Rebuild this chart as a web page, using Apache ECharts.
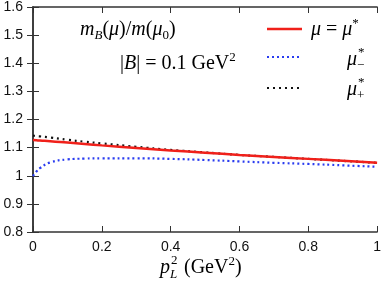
<!DOCTYPE html>
<html><head><meta charset="utf-8">
<script src="https://cdn.jsdelivr.net/npm/echarts@6/dist/echarts.min.js"></script>
<style>html,body{margin:0;padding:0;background:#fff}#c{width:384px;height:283px}</style>
</head><body><div id="c"></div>
<script>
var xValues = [0, 0.01, 0.02, 0.05, 0.1, 0.15, 0.2, 0.3, 0.4, 0.5, 0.6, 0.7, 0.8, 0.9, 1.0];
var muStar = [1.127, 1.126, 1.125, 1.123, 1.118, 1.113, 1.108, 1.099, 1.090, 1.082, 1.074, 1.067, 1.060, 1.053, 1.046];
var muMinus = [0.999, 1.015, 1.027, 1.047, 1.058, 1.061, 1.062, 1.062, 1.060, 1.056, 1.051, 1.046, 1.042, 1.037, 1.032];
var muPlus = [1.143, 1.141, 1.140, 1.136, 1.128, 1.121, 1.115, 1.103, 1.092, 1.083, 1.074, 1.067, 1.060, 1.053, 1.046];
var xTicks = [0, 0.2, 0.4, 0.6, 0.8, 1];
var yTicks = [0.8, 0.9, 1, 1.1, 1.2, 1.3, 1.4, 1.5, 1.6];

function pairs(ys){ return xValues.map(function(x,i){ return [x, ys[i]]; }); }
var chart = echarts.init(document.getElementById('c'));
var axisCol = '#333';
var serif = 'Liberation Serif';
var rich = {
  i: {fontFamily: serif, fontStyle: 'italic', fontSize: 20, color: '#000'},
  r: {fontFamily: serif, fontSize: 20, color: '#000'},
  sub: {fontFamily: serif, fontStyle: 'italic', fontSize: 13, color: '#000', verticalAlign: 'bottom'},
  subr: {fontFamily: serif, fontSize: 13, color: '#000', verticalAlign: 'bottom'},
  sup: {fontFamily: serif, fontSize: 13, color: '#000', verticalAlign: 'top'}
};
function txt(x, y, s){
  return {type: 'text', z: 100, style: {x: x, y: y, text: s, rich: rich, textVerticalAlign: 'middle', lineHeight: 25}};
}
var labelFmt = function(v){ return String(Math.round(v*10)/10); };
var option = {
  animation: false,
  grid: {left: 33, right: 4, top: 7, bottom: 51},
  xAxis: [{
    type: 'value', min: 0, max: 1, interval: 0.2,
    axisLine: {lineStyle: {color: axisCol, width: 1.5}},
    axisTick: {inside: true, length: 6, lineStyle: {color: axisCol}},
    splitLine: {show: false},
    axisLabel: {color: '#111', fontSize: 14, fontFamily: 'Liberation Sans', margin: 8, formatter: labelFmt}
  }, {
    type: 'value', min: 0, max: 1, interval: 0.2, position: 'top',
    axisLine: {show: true, lineStyle: {color: axisCol, width: 1.5}},
    axisTick: {inside: true, length: 6, lineStyle: {color: axisCol}},
    splitLine: {show: false}, axisLabel: {show: false}
  }],
  yAxis: [{
    type: 'value', min: 0.8, max: 1.6, interval: 0.1,
    axisLine: {show: true, lineStyle: {color: axisCol, width: 1.5}},
    axisTick: {show: true, inside: true, length: 6, lineStyle: {color: axisCol}},
    splitLine: {show: false},
    axisLabel: {color: '#111', fontSize: 14, fontFamily: 'Liberation Sans', margin: 10, formatter: labelFmt}
  }, {
    type: 'value', min: 0.8, max: 1.6, interval: 0.1, position: 'right',
    axisLine: {show: true, lineStyle: {color: axisCol, width: 1.5}},
    axisTick: {show: true, inside: true, length: 6, lineStyle: {color: axisCol}},
    splitLine: {show: false}, axisLabel: {show: false}
  }],
  series: [
    {name: 'muMinus', type: 'line', smooth: true, symbol: 'none', data: pairs(muMinus),
      lineStyle: {color: '#2a3cf0', width: 2.2, type: [2, 3]}},
    {name: 'muPlus', type: 'line', smooth: true, symbol: 'none', data: pairs(muPlus),
      lineStyle: {color: '#111', width: 2.2, type: [2, 4]}},
    {name: 'muStar', type: 'line', smooth: true, symbol: 'none', data: pairs(muStar),
      lineStyle: {color: '#f0201a', width: 2.5}}
  ],
  graphic: [
    txt(80, 30, '{i|m}{sub|B}{r|(}{i|μ}{r|)/}{i|m}{r|(}{i|μ}{subr|0}{r|)}'),
    txt(120, 64, '{r||}{i|B}{r|| = 0.1 GeV}{sup|2}'),
    txt(311, 30, '{i|μ}{r| = }{i|μ}{sup|*}'),
    {type: 'text', z: 100, style: {x: 347, y: 60, text: 'μ', font: 'italic 20px Liberation Serif', fill: '#000', textVerticalAlign: 'middle'}},
    {type: 'text', z: 100, style: {x: 358, y: 53, text: '*', font: '13px Liberation Serif', fill: '#000', textVerticalAlign: 'middle'}},
    {type: 'text', z: 100, style: {x: 357, y: 66, text: '−', font: '13px Liberation Serif', fill: '#000', textVerticalAlign: 'middle'}},
    {type: 'text', z: 100, style: {x: 347, y: 90, text: 'μ', font: 'italic 20px Liberation Serif', fill: '#000', textVerticalAlign: 'middle'}},
    {type: 'text', z: 100, style: {x: 358, y: 83, text: '*', font: '13px Liberation Serif', fill: '#000', textVerticalAlign: 'middle'}},
    {type: 'text', z: 100, style: {x: 357, y: 96, text: '+', font: '13px Liberation Serif', fill: '#000', textVerticalAlign: 'middle'}},
    {type: 'line', z: 100, shape: {x1: 267, y1: 29, x2: 302, y2: 29}, style: {stroke: '#f0201a', lineWidth: 2.5}},
    {type: 'line', z: 100, shape: {x1: 267, y1: 57, x2: 302, y2: 57}, style: {stroke: '#2a3cf0', lineWidth: 2.2, lineDash: [2, 3]}},
    {type: 'line', z: 100, shape: {x1: 267, y1: 88, x2: 302, y2: 88}, style: {stroke: '#111', lineWidth: 2.2, lineDash: [2, 4]}},
    {type: 'text', z: 100, style: {x: 160, y: 268, text: 'p', font: 'italic 20px Liberation Serif', fill: '#000', textVerticalAlign: 'middle'}},
    {type: 'text', z: 100, style: {x: 171, y: 261, text: '2', font: '13px Liberation Serif', fill: '#000', textVerticalAlign: 'middle'}},
    {type: 'text', z: 100, style: {x: 170, y: 275, text: 'L', font: 'italic 13px Liberation Serif', fill: '#000', textVerticalAlign: 'middle'}},
    txt(184, 268, '{r|(GeV}{sup|2}{r|)}')
  ]
};
chart.setOption(option);
</script></body></html>
